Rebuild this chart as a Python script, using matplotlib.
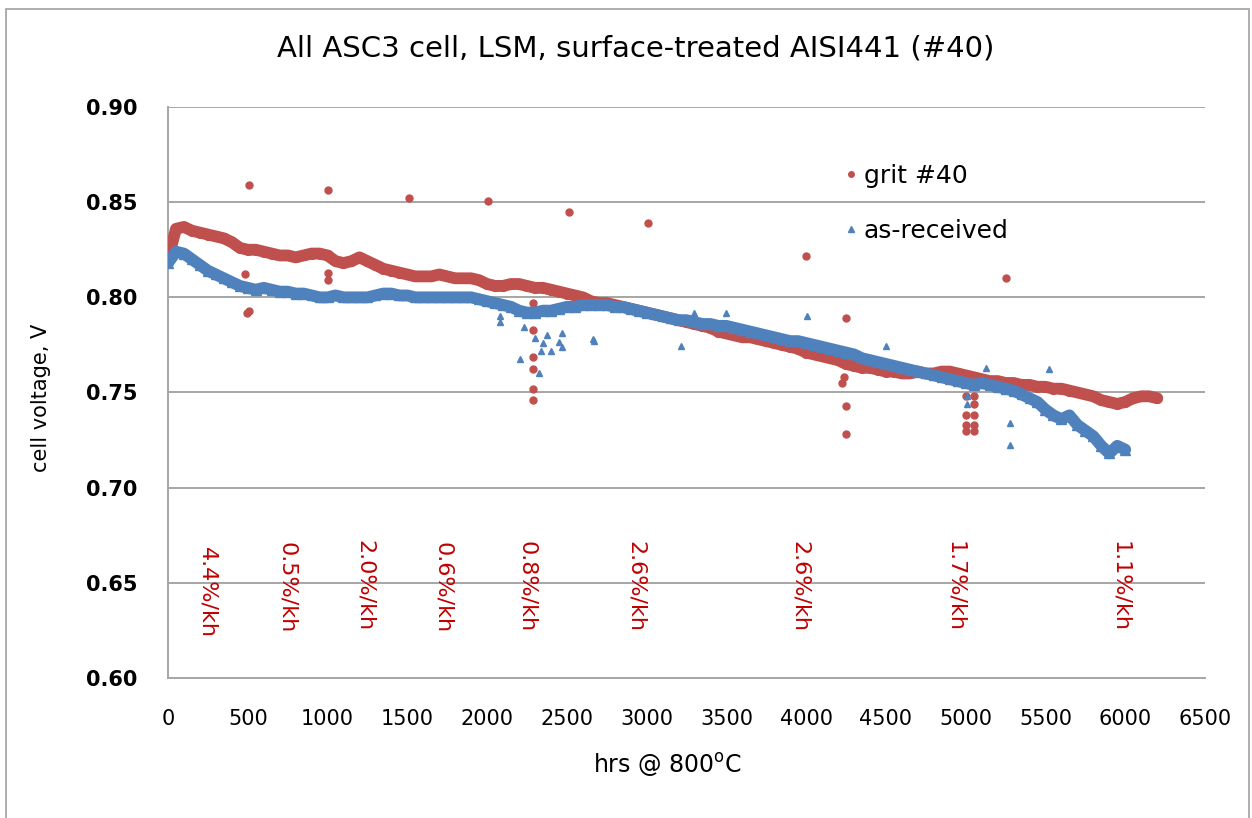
import matplotlib
matplotlib.use("Agg")
import matplotlib.pyplot as plt
from matplotlib.lines import Line2D
from matplotlib.patches import Rectangle

# main trend, sampled every 50 h
hours_grit = list(range(0, 6201, 50))
volt_grit = [
    0.820, 0.836, 0.837, 0.835, 0.834, 0.833, 0.832, 0.831, 0.829, 0.826,
    0.825, 0.825, 0.824, 0.823, 0.822, 0.822, 0.821, 0.822, 0.823, 0.823,
    0.822, 0.819, 0.818, 0.819, 0.821, 0.819, 0.817, 0.815, 0.814, 0.813,
    0.812, 0.811, 0.811, 0.811, 0.812, 0.811, 0.810, 0.810, 0.810, 0.809,
    0.807, 0.806, 0.806, 0.807, 0.807, 0.806, 0.805, 0.805, 0.804, 0.803,
    0.802, 0.801, 0.800, 0.798, 0.797, 0.797, 0.796, 0.795, 0.794, 0.793,
    0.792, 0.791, 0.790, 0.789, 0.788, 0.787, 0.786, 0.785, 0.784, 0.782,
    0.781, 0.780, 0.779, 0.779, 0.778, 0.777, 0.776, 0.775, 0.774, 0.773,
    0.771, 0.770, 0.769, 0.768, 0.767, 0.765, 0.764, 0.763, 0.763, 0.762,
    0.761, 0.761, 0.760, 0.760, 0.761, 0.760, 0.760, 0.761, 0.761, 0.760,
    0.759, 0.758, 0.757, 0.756, 0.756, 0.755, 0.755, 0.754, 0.754, 0.753,
    0.753, 0.752, 0.752, 0.751, 0.750, 0.749, 0.748, 0.746, 0.745, 0.744,
    0.745, 0.747, 0.748, 0.748, 0.747,
]

hours_asr = list(range(0, 6001, 50))
volt_asr = [
    0.818, 0.824, 0.823, 0.820, 0.817, 0.814, 0.812, 0.810, 0.808, 0.806,
    0.805, 0.804, 0.805, 0.804, 0.803, 0.803, 0.802, 0.802, 0.801, 0.800,
    0.800, 0.801, 0.800, 0.800, 0.800, 0.800, 0.801, 0.802, 0.802, 0.801,
    0.801, 0.800, 0.800, 0.800, 0.800, 0.800, 0.800, 0.800, 0.800, 0.799,
    0.798, 0.797, 0.796, 0.795, 0.793, 0.792, 0.792, 0.793, 0.793, 0.794,
    0.795, 0.795, 0.796, 0.796, 0.796, 0.796, 0.795, 0.795, 0.794, 0.793,
    0.792, 0.791, 0.790, 0.789, 0.788, 0.788, 0.787, 0.786, 0.786, 0.785,
    0.785, 0.784, 0.783, 0.782, 0.781, 0.780, 0.779, 0.778, 0.777, 0.777,
    0.776, 0.775, 0.774, 0.773, 0.772, 0.771, 0.770, 0.768, 0.767, 0.766,
    0.765, 0.764, 0.763, 0.762, 0.761, 0.760, 0.759, 0.758, 0.757, 0.756,
    0.755, 0.754, 0.755, 0.754, 0.753, 0.752, 0.751, 0.749, 0.747, 0.745,
    0.741, 0.738, 0.736, 0.738, 0.733, 0.730, 0.727, 0.722, 0.718, 0.722,
    0.720,
]

# scattered points off the main band
out_grit_h = [505, 495, 505, 1005, 1510, 2005, 2515, 3010, 4000, 5250,
              2285, 2285, 2285, 2285, 2285, 4250, 4250, 4250,
              5005, 5005, 5005, 5005, 5055, 5055, 5055, 5055, 5055,
              485, 1005, 1005, 2285, 4225, 4235]
out_grit_v = [0.859, 0.792, 0.793, 0.8566, 0.852, 0.8505, 0.845, 0.839, 0.8216, 0.810,
              0.7826, 0.7684, 0.7626, 0.7516, 0.7463, 0.789, 0.743, 0.728,
              0.748, 0.738, 0.733, 0.730, 0.748, 0.744, 0.738, 0.733, 0.730,
              0.812, 0.809, 0.813, 0.797, 0.755, 0.758]

out_asr_h = [2230, 2300, 2375, 2350, 2340, 2400, 2470, 2450, 2470, 2205,
             2325, 2665, 2080, 2080, 2670, 3215, 3300, 3500, 4005, 4500,
             5520, 5280, 5280, 5130, 5010, 5010]
out_asr_v = [0.7842, 0.7784, 0.780, 0.7758, 0.772, 0.7716, 0.781, 0.7763, 0.774, 0.7674,
             0.7605, 0.7779, 0.7868, 0.790, 0.777, 0.7745, 0.792, 0.792, 0.790, 0.7745,
             0.7626, 0.734, 0.7226, 0.763, 0.748, 0.744]

rate_labels = ["4.4%/kh", "0.5%/kh", "2.0%/kh", "0.6%/kh", "0.8%/kh",
               "2.6%/kh", "2.6%/kh", "1.7%/kh", "1.1%/kh"]
rate_hours = [245, 746, 1235, 1724, 2251, 2934, 3962, 4934, 5969]
rate_top = [0.669, 0.6715, 0.6725, 0.6715, 0.672, 0.672, 0.672, 0.672, 0.672]

red = "#C0504D"
blue = "#4F81BD"

fig = plt.figure(figsize=(12.52, 8.18), dpi=100)
ax = fig.add_axes([168 / 1252, 1 - 678 / 818, 1037 / 1252, 571 / 818])

ax.plot(hours_grit, volt_grit, color=red, lw=8.5, solid_capstyle="round", zorder=3)
ax.plot(hours_grit, volt_grit, "o", color=red, ms=7, zorder=3)
ax.plot(out_grit_h, out_grit_v, "o", color=red, ms=5, ls="none", zorder=3)
ax.plot(hours_asr, volt_asr, color=blue, lw=8.5, solid_capstyle="round", zorder=4)
ax.plot(hours_asr, volt_asr, "^", color=blue, ms=7, zorder=4)
ax.plot(out_asr_h, out_asr_v, "^", color=blue, ms=5, ls="none", zorder=4)

for lab, h, t in zip(rate_labels, rate_hours, rate_top):
    ax.text(h, t, lab, rotation=270, color="#C00000", fontsize=16,
            ha="center", va="top", zorder=2)

ax.set_xlim(0, 6500)
ax.set_ylim(0.60, 0.90)
ax.set_xticks(range(0, 6501, 500))
ax.set_yticks([0.60, 0.65, 0.70, 0.75, 0.80, 0.85, 0.90])
ax.set_yticklabels(["%.2f" % v for v in ax.get_yticks()], fontweight="bold")
ax.tick_params(axis="both", length=0, colors="black")
ax.tick_params(axis="x", pad=22, labelsize=15)
ax.tick_params(axis="y", pad=22, labelsize=15)
ax.grid(axis="y", color="#A6A6A6", lw=1.4, zorder=0)
for s in ["top", "right"]:
    ax.spines[s].set_visible(False)
for s in ["left", "bottom"]:
    ax.spines[s].set_color("#A6A6A6")
    ax.spines[s].set_linewidth(1.4)

ax.set_xlabel("hrs @ 800$^{\\rm o}$C", fontsize=17)
ax.xaxis.set_label_coords(0.482, -0.128)
ax.set_ylabel("cell voltage, V", fontsize=15)
ax.yaxis.set_label_coords(-0.113, 0.49)

fig.text(0.508, 0.941, "All ASC3 cell, LSM, surface-treated AISI441 (#40)",
         ha="center", va="center", fontsize=21)

handles = [Line2D([], [], marker="o", color=red, ls="none", ms=4),
           Line2D([], [], marker="^", color=blue, ls="none", ms=4)]
ax.legend(handles, ["grit #40", "as-received"], loc="upper left",
          bbox_to_anchor=(0.625, 0.94), frameon=False, fontsize=18,
          labelspacing=1.25, handletextpad=0.0, handlelength=1.0)

fig.patches.append(Rectangle((0.005, -0.01), 0.9925, 0.9995, transform=fig.transFigure,
                             fill=False, edgecolor="#A0A0A0", lw=1.2))

fig.savefig("out.png", dpi=100)
